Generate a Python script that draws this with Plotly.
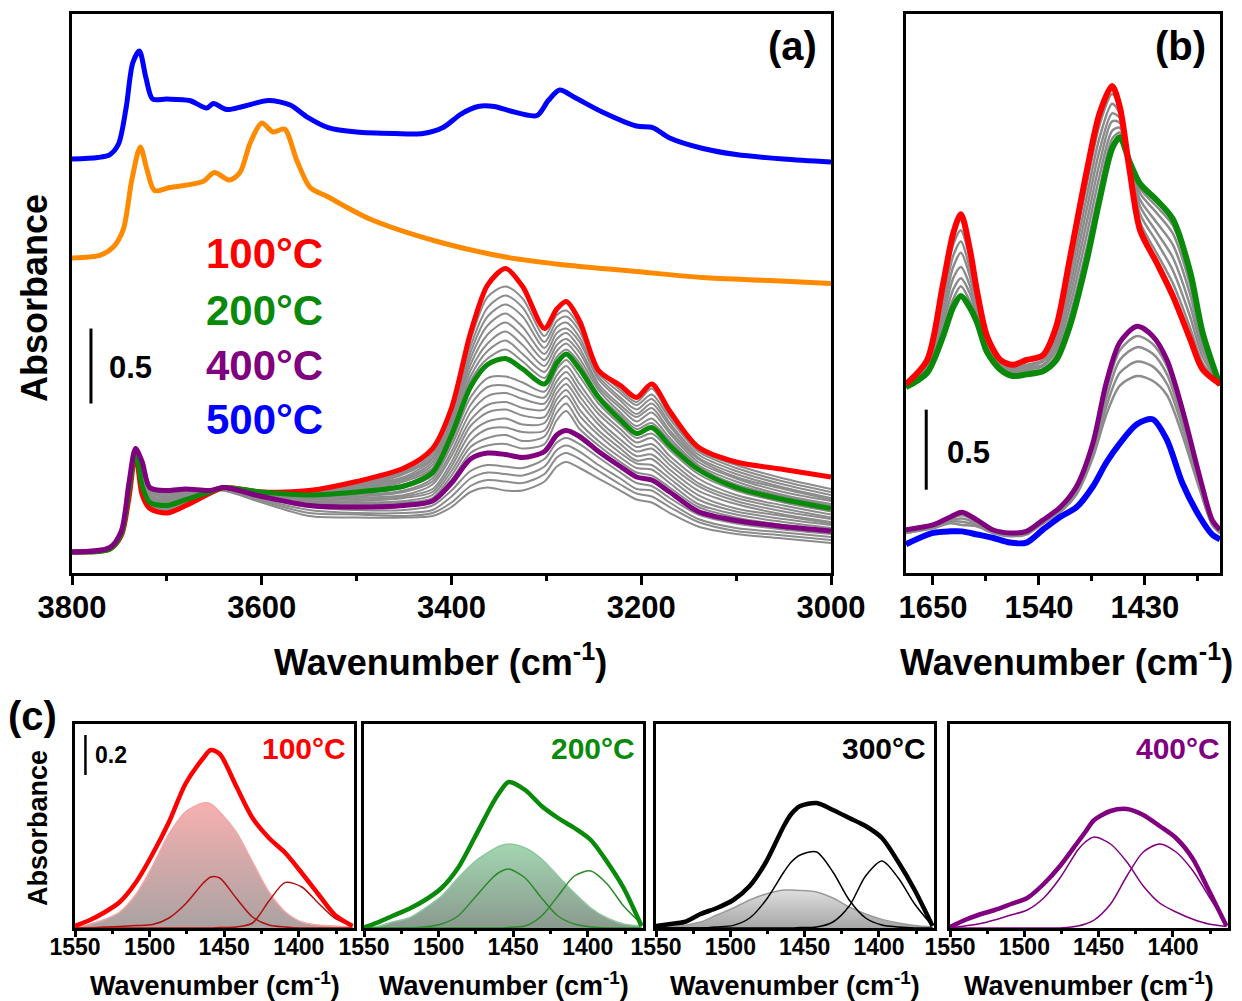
import plotly.graph_objects as go

# page body has an 8 px margin; the figure is sized to fit the 1242x1001 window exactly
W, H = 1242, 1001
OFF = 8
FW, FH = W - OFF, H - OFF

# ---------------- Panel (a) data ----------------
A_WN = [3800, 3760, 3748, 3740, 3733, 3726, 3718, 3700, 3680, 3655, 3640, 3600, 3550, 3500, 3450, 3420, 3400, 3380,
        3362, 3343, 3325, 3302, 3289, 3279, 3265, 3245, 3222, 3205, 3189, 3170, 3140, 3100, 3050, 3000]
A_RED = [0.14, 0.16, 0.25, 0.50, 0.80, 0.52, 0.43, 0.40, 0.45, 0.53, 0.57, 0.54, 0.55, 0.61, 0.70, 0.83, 1.10, 1.60,
         1.92, 2.03, 1.91, 1.63, 1.76, 1.81, 1.68, 1.35, 1.25, 1.17, 1.26, 1.08, 0.84, 0.74, 0.69, 0.64]
A_GREEN = [0.14, 0.16, 0.26, 0.55, 0.82, 0.58, 0.47, 0.45, 0.49, 0.54, 0.57, 0.54, 0.52, 0.54, 0.58, 0.67, 0.92, 1.24,
           1.39, 1.43, 1.36, 1.26, 1.40, 1.46, 1.36, 1.17, 1.02, 0.93, 0.97, 0.85, 0.69, 0.57, 0.49, 0.43]
A_PURPLE = [0.14, 0.17, 0.28, 0.60, 0.83, 0.74, 0.57, 0.55, 0.56, 0.55, 0.57, 0.51, 0.45, 0.44, 0.45, 0.48, 0.60, 0.76,
            0.80, 0.79, 0.77, 0.81, 0.92, 0.95, 0.91, 0.81, 0.71, 0.64, 0.62, 0.54, 0.41, 0.35, 0.31, 0.28]
A_GRAYS = [
    [0.14, 0.16, 0.25, 0.51, 0.80, 0.53, 0.43, 0.41, 0.45, 0.53, 0.57, 0.54, 0.55, 0.60, 0.68, 0.81, 1.08, 1.55, 1.84, 1.91, 1.83, 1.58, 1.72, 1.75, 1.64, 1.36, 1.22, 1.14, 1.23, 1.05, 0.82, 0.72, 0.63, 0.56],
    [0.14, 0.16, 0.25, 0.51, 0.80, 0.53, 0.44, 0.41, 0.46, 0.53, 0.57, 0.54, 0.54, 0.59, 0.67, 0.79, 1.06, 1.51, 1.77, 1.85, 1.77, 1.54, 1.68, 1.71, 1.61, 1.33, 1.20, 1.12, 1.19, 1.03, 0.81, 0.70, 0.61, 0.54],
    [0.14, 0.16, 0.25, 0.52, 0.81, 0.54, 0.44, 0.42, 0.46, 0.53, 0.57, 0.54, 0.54, 0.58, 0.66, 0.77, 1.04, 1.47, 1.71, 1.79, 1.71, 1.50, 1.64, 1.67, 1.57, 1.31, 1.17, 1.09, 1.16, 1.00, 0.79, 0.68, 0.59, 0.52],
    [0.14, 0.16, 0.25, 0.52, 0.81, 0.55, 0.45, 0.42, 0.47, 0.53, 0.57, 0.54, 0.54, 0.58, 0.64, 0.76, 1.02, 1.43, 1.65, 1.73, 1.64, 1.46, 1.60, 1.63, 1.54, 1.29, 1.15, 1.06, 1.13, 0.98, 0.77, 0.66, 0.57, 0.50],
    [0.14, 0.16, 0.26, 0.53, 0.81, 0.55, 0.45, 0.43, 0.47, 0.54, 0.57, 0.54, 0.53, 0.57, 0.63, 0.74, 1.00, 1.39, 1.59, 1.67, 1.58, 1.42, 1.56, 1.60, 1.50, 1.26, 1.12, 1.04, 1.10, 0.95, 0.76, 0.64, 0.56, 0.49],
    [0.14, 0.16, 0.26, 0.53, 0.81, 0.56, 0.46, 0.43, 0.48, 0.54, 0.57, 0.54, 0.53, 0.56, 0.62, 0.72, 0.98, 1.35, 1.53, 1.61, 1.52, 1.38, 1.52, 1.56, 1.47, 1.24, 1.10, 1.01, 1.07, 0.93, 0.74, 0.63, 0.54, 0.48],
    [0.14, 0.16, 0.26, 0.54, 0.82, 0.57, 0.46, 0.44, 0.48, 0.54, 0.57, 0.54, 0.53, 0.55, 0.61, 0.70, 0.96, 1.31, 1.48, 1.55, 1.46, 1.34, 1.48, 1.53, 1.43, 1.22, 1.07, 0.98, 1.03, 0.90, 0.72, 0.61, 0.52, 0.46],
    [0.14, 0.16, 0.26, 0.54, 0.82, 0.57, 0.47, 0.44, 0.49, 0.54, 0.57, 0.54, 0.52, 0.55, 0.59, 0.69, 0.94, 1.28, 1.43, 1.49, 1.41, 1.30, 1.44, 1.49, 1.40, 1.19, 1.05, 0.96, 1.00, 0.88, 0.71, 0.59, 0.51, 0.45],
    [0.14, 0.16, 0.26, 0.55, 0.82, 0.60, 0.48, 0.46, 0.50, 0.54, 0.57, 0.54, 0.51, 0.53, 0.57, 0.65, 0.88, 1.17, 1.30, 1.31, 1.27, 1.21, 1.36, 1.42, 1.31, 1.13, 0.99, 0.90, 0.93, 0.82, 0.66, 0.55, 0.47, 0.41],
    [0.14, 0.16, 0.26, 0.56, 0.82, 0.61, 0.49, 0.47, 0.51, 0.54, 0.57, 0.53, 0.51, 0.52, 0.55, 0.63, 0.85, 1.12, 1.24, 1.25, 1.21, 1.17, 1.32, 1.38, 1.26, 1.09, 0.96, 0.87, 0.90, 0.78, 0.63, 0.52, 0.45, 0.39],
    [0.14, 0.16, 0.26, 0.56, 0.82, 0.63, 0.50, 0.48, 0.51, 0.54, 0.57, 0.53, 0.50, 0.51, 0.54, 0.61, 0.81, 1.07, 1.18, 1.20, 1.16, 1.13, 1.28, 1.34, 1.22, 1.06, 0.93, 0.84, 0.86, 0.75, 0.60, 0.50, 0.43, 0.37],
    [0.14, 0.16, 0.27, 0.57, 0.82, 0.64, 0.51, 0.49, 0.52, 0.54, 0.57, 0.53, 0.49, 0.50, 0.52, 0.59, 0.78, 1.02, 1.12, 1.14, 1.10, 1.09, 1.24, 1.30, 1.18, 1.02, 0.89, 0.81, 0.83, 0.72, 0.58, 0.48, 0.41, 0.36],
    [0.14, 0.16, 0.27, 0.57, 0.83, 0.66, 0.52, 0.50, 0.53, 0.55, 0.57, 0.52, 0.49, 0.49, 0.51, 0.56, 0.74, 0.98, 1.07, 1.09, 1.05, 1.04, 1.20, 1.26, 1.14, 0.99, 0.86, 0.78, 0.79, 0.69, 0.55, 0.46, 0.39, 0.34],
    [0.14, 0.17, 0.27, 0.58, 0.83, 0.68, 0.53, 0.51, 0.53, 0.55, 0.57, 0.52, 0.48, 0.48, 0.50, 0.54, 0.71, 0.93, 1.01, 1.03, 0.99, 1.00, 1.16, 1.22, 1.09, 0.95, 0.83, 0.75, 0.76, 0.66, 0.52, 0.43, 0.38, 0.33],
    [0.14, 0.17, 0.27, 0.58, 0.83, 0.69, 0.54, 0.52, 0.54, 0.55, 0.57, 0.52, 0.47, 0.47, 0.48, 0.52, 0.68, 0.88, 0.96, 0.97, 0.94, 0.95, 1.12, 1.18, 1.05, 0.92, 0.80, 0.73, 0.72, 0.63, 0.49, 0.41, 0.36, 0.32],
    [0.14, 0.17, 0.28, 0.59, 0.83, 0.71, 0.55, 0.53, 0.55, 0.55, 0.57, 0.51, 0.46, 0.46, 0.47, 0.50, 0.65, 0.84, 0.90, 0.92, 0.88, 0.91, 1.07, 1.13, 1.00, 0.88, 0.77, 0.70, 0.69, 0.60, 0.46, 0.39, 0.34, 0.30],
    [0.14, 0.17, 0.28, 0.59, 0.83, 0.72, 0.56, 0.54, 0.55, 0.55, 0.57, 0.51, 0.46, 0.45, 0.46, 0.49, 0.62, 0.80, 0.85, 0.86, 0.83, 0.86, 1.02, 1.08, 0.96, 0.85, 0.74, 0.67, 0.65, 0.57, 0.44, 0.37, 0.32, 0.29],
    [0.14, 0.17, 0.28, 0.60, 0.83, 0.72, 0.56, 0.54, 0.55, 0.55, 0.56, 0.50, 0.44, 0.42, 0.42, 0.45, 0.55, 0.68, 0.72, 0.71, 0.70, 0.76, 0.87, 0.90, 0.86, 0.77, 0.67, 0.60, 0.58, 0.50, 0.39, 0.33, 0.29, 0.26],
    [0.14, 0.17, 0.29, 0.61, 0.84, 0.71, 0.55, 0.54, 0.55, 0.55, 0.56, 0.49, 0.42, 0.40, 0.40, 0.42, 0.51, 0.63, 0.67, 0.66, 0.65, 0.71, 0.82, 0.85, 0.81, 0.72, 0.63, 0.56, 0.55, 0.47, 0.36, 0.30, 0.27, 0.24],
    [0.14, 0.17, 0.29, 0.61, 0.84, 0.70, 0.55, 0.53, 0.54, 0.55, 0.55, 0.48, 0.40, 0.39, 0.38, 0.40, 0.47, 0.58, 0.62, 0.61, 0.60, 0.66, 0.77, 0.80, 0.76, 0.68, 0.59, 0.53, 0.51, 0.44, 0.34, 0.28, 0.25, 0.22],
    [0.14, 0.17, 0.29, 0.62, 0.84, 0.70, 0.54, 0.53, 0.54, 0.55, 0.55, 0.47, 0.38, 0.37, 0.37, 0.38, 0.44, 0.54, 0.57, 0.55, 0.55, 0.61, 0.71, 0.74, 0.70, 0.63, 0.55, 0.49, 0.47, 0.40, 0.31, 0.26, 0.23, 0.20],
]
BLUE_WN = [3800, 3773, 3760, 3751, 3743, 3736, 3729, 3722, 3715, 3700, 3676, 3658, 3651, 3637, 3620, 3593, 3570, 3552,
           3530, 3500, 3460, 3430, 3409, 3390, 3372, 3355, 3338, 3310, 3298, 3286, 3270, 3240, 3205, 3188, 3170, 3135,
           3100, 3050, 3000]
BLUE_Y = [2.76, 2.77, 2.79, 2.86, 3.10, 3.40, 3.48, 3.30, 3.16, 3.16, 3.15, 3.10, 3.13, 3.09, 3.11, 3.15, 3.12, 3.04,
          2.97, 2.94, 2.93, 2.93, 2.97, 3.06, 3.11, 3.11, 3.08, 3.05, 3.15, 3.22, 3.17, 3.07, 2.98, 2.97, 2.90, 2.83,
          2.79, 2.76, 2.74]
ORANGE_WN = [3800, 3770, 3757, 3746, 3737, 3728, 3721, 3713, 3697, 3662, 3650, 3634, 3623, 3612, 3600, 3588, 3576,
             3563, 3549, 3531, 3486, 3415, 3346, 3275, 3205, 3135, 3064, 3000]
ORANGE_Y = [2.10, 2.12, 2.17, 2.29, 2.62, 2.84, 2.69, 2.55, 2.57, 2.61, 2.67, 2.62, 2.67, 2.87, 3.00, 2.94, 2.96,
            2.75, 2.57, 2.51, 2.36, 2.21, 2.11, 2.05, 2.01, 1.97, 1.95, 1.93]

# ---------------- Panel (b) data ----------------
B_UP_WN = [1678, 1656, 1640, 1629, 1621, 1612, 1604, 1594, 1580, 1567, 1553, 1536, 1522, 1508, 1490, 1477, 1464,
           1456, 1446, 1435, 1418, 1401, 1383, 1370, 1352]
B_RED = [1.18, 1.33, 1.79, 2.12, 2.24, 2.03, 1.75, 1.48, 1.33, 1.30, 1.33, 1.36, 1.54, 1.96, 2.52, 2.87, 3.04, 2.91,
         2.52, 2.14, 1.94, 1.73, 1.46, 1.27, 1.18]
B_GREEN = [1.16, 1.25, 1.47, 1.66, 1.73, 1.66, 1.56, 1.38, 1.27, 1.23, 1.24, 1.26, 1.33, 1.54, 1.96, 2.33, 2.65, 2.72,
           2.57, 2.43, 2.33, 2.21, 1.88, 1.50, 1.17]
B_UP_GRAYS = [
    [1.18, 1.32, 1.74, 2.05, 2.14, 1.97, 1.72, 1.47, 1.32, 1.29, 1.32, 1.35, 1.51, 1.90, 2.44, 2.80, 2.99, 2.90, 2.53, 2.19, 2.00, 1.81, 1.53, 1.31, 1.18],
    [1.18, 1.30, 1.69, 1.98, 2.07, 1.91, 1.69, 1.45, 1.31, 1.28, 1.30, 1.33, 1.48, 1.84, 2.36, 2.72, 2.93, 2.87, 2.54, 2.24, 2.07, 1.89, 1.60, 1.35, 1.18],
    [1.17, 1.29, 1.64, 1.91, 2.00, 1.86, 1.66, 1.44, 1.30, 1.27, 1.29, 1.32, 1.45, 1.78, 2.28, 2.64, 2.87, 2.84, 2.55, 2.29, 2.13, 1.97, 1.67, 1.39, 1.18],
    [1.17, 1.28, 1.59, 1.84, 1.91, 1.80, 1.63, 1.42, 1.29, 1.26, 1.28, 1.30, 1.42, 1.72, 2.20, 2.56, 2.82, 2.81, 2.55, 2.33, 2.19, 2.05, 1.74, 1.42, 1.18],
    [1.17, 1.27, 1.55, 1.77, 1.84, 1.75, 1.60, 1.41, 1.28, 1.25, 1.27, 1.29, 1.39, 1.66, 2.12, 2.48, 2.76, 2.78, 2.56, 2.37, 2.25, 2.12, 1.80, 1.45, 1.18],
    [1.16, 1.26, 1.51, 1.71, 1.79, 1.70, 1.58, 1.39, 1.28, 1.24, 1.26, 1.27, 1.36, 1.60, 2.04, 2.40, 2.71, 2.75, 2.56, 2.40, 2.29, 2.17, 1.85, 1.48, 1.17],
]
B_LO_WN = [1678, 1650, 1632, 1620, 1604, 1588, 1570, 1553, 1536, 1518, 1501, 1484, 1470, 1456, 1438, 1422, 1407,
           1391, 1373, 1360, 1352]
B_PURPLE = [0.27, 0.30, 0.35, 0.38, 0.33, 0.27, 0.25, 0.26, 0.33, 0.41, 0.54, 0.81, 1.19, 1.44, 1.54, 1.48, 1.33,
            1.02, 0.60, 0.33, 0.27]
B_BLUE = [0.18, 0.25, 0.26, 0.26, 0.24, 0.22, 0.19, 0.19, 0.27, 0.35, 0.41, 0.54, 0.69, 0.81, 0.93, 0.96, 0.83,
          0.56, 0.35, 0.24, 0.21]
B_LO_GRAYS = [
    [0.26, 0.29, 0.34, 0.36, 0.32, 0.27, 0.25, 0.26, 0.32, 0.40, 0.52, 0.78, 1.14, 1.39, 1.48, 1.43, 1.29, 0.99, 0.58, 0.32, 0.26],
    [0.26, 0.29, 0.33, 0.34, 0.31, 0.26, 0.24, 0.25, 0.32, 0.39, 0.51, 0.76, 1.09, 1.33, 1.41, 1.37, 1.24, 0.95, 0.56, 0.31, 0.26],
    [0.25, 0.28, 0.32, 0.32, 0.30, 0.26, 0.24, 0.25, 0.31, 0.39, 0.50, 0.74, 1.04, 1.25, 1.32, 1.29, 1.18, 0.91, 0.54, 0.30, 0.25],
    [0.25, 0.28, 0.31, 0.30, 0.29, 0.25, 0.23, 0.24, 0.31, 0.38, 0.49, 0.72, 0.99, 1.17, 1.23, 1.20, 1.11, 0.86, 0.52, 0.30, 0.25],
]

# ---------------- Panel (c) data ----------------
C_WN = [1550, 1540, 1531, 1520, 1509, 1498, 1487, 1476, 1464, 1459, 1453, 1442, 1431, 1420, 1409, 1398, 1387, 1376, 1364]
C_TEMPS = ["100°C", "200°C", "300°C", "400°C"]
C_TOTAL = [
    [0.01, 0.04, 0.075, 0.13, 0.23, 0.37, 0.53, 0.72, 0.85, 0.89, 0.87, 0.71, 0.55, 0.45, 0.375, 0.275, 0.17, 0.067, 0.01],
    [0.003, 0.03, 0.06, 0.095, 0.14, 0.20, 0.30, 0.45, 0.62, 0.68, 0.73, 0.69, 0.61, 0.55, 0.50, 0.44, 0.33, 0.20, 0.01],
    [0.01, 0.02, 0.03, 0.07, 0.10, 0.14, 0.21, 0.33, 0.51, 0.57, 0.61, 0.625, 0.59, 0.55, 0.51, 0.45, 0.33, 0.19, 0.01],
    [0.005, 0.04, 0.065, 0.09, 0.12, 0.15, 0.22, 0.31, 0.43, 0.48, 0.54, 0.585, 0.595, 0.565, 0.51, 0.45, 0.35, 0.19, 0.01],
]
C_BROAD = [
    [0.0, 0.02, 0.04, 0.08, 0.17, 0.31, 0.47, 0.58, 0.625, 0.62, 0.58, 0.48, 0.33, 0.18, 0.08, 0.03, 0.015, 0.01, 0.005],
    [0.0, 0.01, 0.03, 0.05, 0.10, 0.16, 0.25, 0.33, 0.39, 0.41, 0.42, 0.40, 0.345, 0.26, 0.175, 0.10, 0.05, 0.02, 0.01],
    [0.0, 0.005, 0.013, 0.03, 0.065, 0.10, 0.14, 0.17, 0.19, 0.19, 0.188, 0.18, 0.15, 0.105, 0.07, 0.043, 0.025, 0.013, 0.005],
    None,
]
C_COMP_HI = [
    [0.0, 0.0, 0.005, 0.008, 0.012, 0.017, 0.05, 0.12, 0.225, 0.255, 0.25, 0.15, 0.055, 0.015, 0.005, 0.0, 0.0, 0.0, 0.0],
    [0.0, 0.0, 0.0, 0.0, 0.005, 0.02, 0.06, 0.15, 0.25, 0.28, 0.295, 0.25, 0.15, 0.06, 0.02, 0.005, 0.0, 0.0, 0.0],
    [0.0, 0.0, 0.0, 0.0, 0.005, 0.013, 0.05, 0.14, 0.28, 0.33, 0.365, 0.38, 0.28, 0.14, 0.05, 0.015, 0.005, 0.0, 0.0],
    [0.0, 0.01, 0.02, 0.04, 0.065, 0.09, 0.15, 0.25, 0.39, 0.43, 0.455, 0.42, 0.33, 0.21, 0.125, 0.08, 0.045, 0.02, 0.008],
]
C_COMP_LO = [
    [0.0, 0.0, 0.0, 0.0, 0.0, 0.0, 0.0, 0.0, 0.0, 0.0, 0.002, 0.005, 0.025, 0.135, 0.228, 0.205, 0.125, 0.05, 0.01],
    [0.0, 0.0, 0.0, 0.0, 0.0, 0.0, 0.0, 0.0, 0.0, 0.0, 0.003, 0.01, 0.06, 0.16, 0.26, 0.285, 0.22, 0.11, 0.02],
    [0.0, 0.0, 0.0, 0.0, 0.0, 0.0, 0.0, 0.0, 0.0, 0.0, 0.002, 0.005, 0.03, 0.11, 0.26, 0.335, 0.25, 0.12, 0.01],
    [0.0, 0.0, 0.0, 0.0, 0.0, 0.0, 0.0, 0.0, 0.01, 0.02, 0.04, 0.12, 0.26, 0.38, 0.42, 0.38, 0.29, 0.16, 0.02],
]

# ---------------- styling ----------------
RED, GREEN, PURPLE, BLUE, ORANGE, GRAY = "#ff0000", "#0a8a0a", "#800080", "#0000ff", "#ff8a00", "#8c8c8c"
C_MAIN = [RED, GREEN, "#000000", PURPLE]
C_COMP = ["#b01010", "#2a8a2a", "#000000", PURPLE]
C_BROAD_LINE = ["#f4a6a6", "#8fc79f", "#9a9a9a", None]
C_GRAD = [
    [[0, "#aaa2a2"], [1, "#f7b0b0"]],
    [[0, "#8a9a8e"], [1, "#a3d6b2"]],
    [[0, "#a6a6a6"], [1, "#dedede"]],
    None,
]
FONT = "Liberation Sans, Arial, sans-serif"


def px(xp):
    return (xp - OFF) / FW


def py(yp):
    return 1 - (yp - OFF) / FH


fig = go.Figure()


def line(x, y, ax, color, width, **kw):
    fig.add_trace(go.Scatter(x=x, y=y, xaxis="x" + ax, yaxis="y" + ax, mode="lines",
                             line=dict(color=color, width=width, shape="spline", smoothing=0.8),
                             showlegend=False, hoverinfo="skip", **kw))


# panel (a)
for g in A_GRAYS:
    line(A_WN, g, "", GRAY, 2)
line(A_WN, A_RED, "", RED, 5)
line(A_WN, A_GREEN, "", GREEN, 5)
line(A_WN, A_PURPLE, "", PURPLE, 5)
line(ORANGE_WN, ORANGE_Y, "", ORANGE, 5)
line(BLUE_WN, BLUE_Y, "", BLUE, 5)

# panel (b)
for g in B_UP_GRAYS:
    line(B_UP_WN, g, "2", GRAY, 2.5)
line(B_UP_WN, B_GREEN, "2", GREEN, 6)
line(B_UP_WN, B_RED, "2", RED, 6)
for g in B_LO_GRAYS:
    line(B_LO_WN, g, "2", GRAY, 2.5)
line(B_LO_WN, B_BLUE, "2", BLUE, 6)
line(B_LO_WN, B_PURPLE, "2", PURPLE, 5)

# panel (c)
for i in range(4):
    ax = str(i + 3)
    if C_BROAD[i] is not None:
        line(C_WN, C_BROAD[i], ax, C_BROAD_LINE[i], 1.5, fill="tozeroy",
             fillgradient=dict(type="vertical", colorscale=C_GRAD[i]))
    line(C_WN, C_COMP_HI[i], ax, C_COMP[i], 1.5)
    line(C_WN, C_COMP_LO[i], ax, C_COMP[i], 1.5)
    line(C_WN, C_TOTAL[i], ax, C_MAIN[i], 4.5)

tick_font_big = dict(family=FONT, size=31, color="black", weight="bold")
tick_font_small = dict(family=FONT, size=23, color="black", weight="bold")


def xaxis(domain, rng, tick0, dtick, mdtick, font, lw, tl, anchor, standoff):
    return dict(domain=domain, range=rng, tick0=tick0, dtick=dtick, ticks="outside", ticklen=tl, tickwidth=lw,
                tickcolor="black", showline=True, linecolor="black", linewidth=lw, mirror=True, showgrid=False,
                zeroline=False, tickfont=font, anchor=anchor, automargin=False, ticklabelstandoff=standoff,
                minor=dict(dtick=mdtick, ticks="outside", ticklen=tl * 0.6, tickwidth=lw, tickcolor="black",
                           showgrid=False))


def yaxis(domain, rng, lw, anchor):
    return dict(domain=domain, range=rng, showticklabels=False, ticks="", showline=True, linecolor="black",
                linewidth=lw, mirror=True, showgrid=False, zeroline=False, anchor=anchor, automargin=False)


yA = [py(573), py(14)]
yC = [py(928), py(724)]
layout = dict(width=FW, height=FH, margin=dict(l=0, r=0, t=0, b=0, autoexpand=False), plot_bgcolor="white",
              paper_bgcolor="white", showlegend=False)
layout["xaxis"] = xaxis([px(72), px(831)], [3800, 3000], 3000, 200, 100, tick_font_big, 3, 9, "y", -4)
layout["yaxis"] = yaxis(yA, [0, 3.727], 3, "x")
layout["xaxis2"] = xaxis([px(906), px(1220)], [1678, 1352], 1430, 110, 55, tick_font_big, 3, 9, "y2", -4)
layout["yaxis2"] = yaxis(yA, [0, 3.49], 3, "x2")
c_dom = [(75, 354), (364, 643), (656, 934), (950, 1228)]
for i, (l, r) in enumerate(c_dom):
    n = str(i + 3)
    layout["xaxis" + n] = xaxis([px(l), px(r)], [1550, 1363], 1400, 50, 25, tick_font_small, 2.5, 6, "y" + n, -9)
    layout["yaxis" + n] = yaxis(yC, [0, 1.02], 2.5, "x" + n)

ann = []


def text(t, xp, yp, size, color="black", xanchor="center", angle=0, bold=True):
    ann.append(dict(text=t, x=px(xp), y=py(yp), xref="paper", yref="paper", showarrow=False, xanchor=xanchor,
                    yanchor="middle", textangle=angle,
                    font=dict(family=FONT, size=size, color=color, weight="bold" if bold else "normal")))


text("(a)", 792, 46, 40)
text("(b)", 1180, 46, 40)
text("(c)", 32, 716, 40)
for t, c, yy in zip(["100°C", "200°C", "400°C", "500°C"], [RED, GREEN, PURPLE, BLUE], [254, 310, 365, 419]):
    text(t, 204, yy, 42, c, xanchor="left")
text("0.5", 130, 367, 31)
text("0.5", 968, 452, 31)
text("0.2", 111, 755, 23)
text("Absorbance", 34, 298, 36, angle=-90)
text("Absorbance", 38, 828, 27, angle=-90)
text("Wavenumber (cm<sup>-1</sup>)", 441, 660, 36)
text("Wavenumber (cm<sup>-1</sup>)", 1066, 660, 36)
for (l, r), t, c in zip(c_dom, C_TEMPS, C_MAIN):
    text("Wavenumber (cm<sup>-1</sup>)", (l + r) / 2, 984, 27)
    text(t, r - 6, 748, 30, c, xanchor="right")
layout["annotations"] = ann

# scale bars (drawn in data units)
layout["shapes"] = [
    dict(type="line", xref="x", yref="y", x0=3780, x1=3780, y0=1.13, y1=1.63, line=dict(color="black", width=3)),
    dict(type="line", xref="x2", yref="y2", x0=1657, x1=1657, y0=0.52, y1=1.02, line=dict(color="black", width=3)),
    dict(type="line", xref="x3", yref="y3", x0=1543, x1=1543, y0=0.765, y1=0.965, line=dict(color="black", width=2.5)),
]

fig.update_layout(**layout)
fig.write_html("out.html")
